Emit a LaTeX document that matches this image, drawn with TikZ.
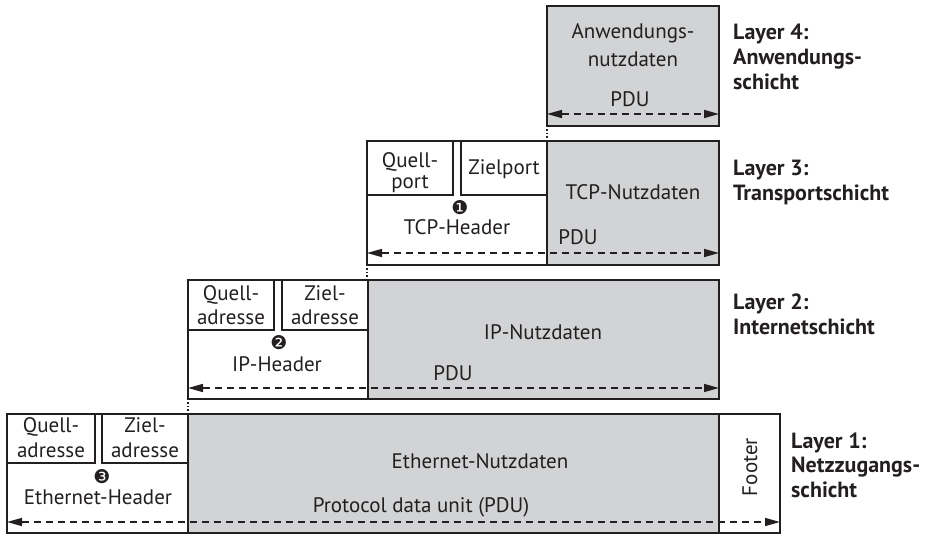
\documentclass[tikz,border=0pt]{standalone}
\usepackage{fontspec}
\setmainfont{PT Sans}
\newfontfamily\dingfont{DejaVu Sans}
\usetikzlibrary{arrows.meta}
\definecolor{ink}{HTML}{231F20}
\definecolor{paygray}{HTML}{D1D3D4}
\begin{document}
\begin{tikzpicture}[x=1pt,y=-1pt,
  frame/.style={draw=ink, line width=1.8pt, rectangle, inner sep=0pt, outer sep=0pt, anchor=north west, fill=white},
  pay/.style={frame, fill=paygray},
  lbl/.style={font=\fontsize{21}{22}\selectfont, text=ink, inner sep=0pt, align=center, anchor=base},
  layer/.style={font=\fontsize{22}{25}\selectfont\bfseries, text=ink, inner sep=0pt, align=left, anchor=base west},
  num/.style={font=\dingfont\fontsize{19}{19}\selectfont, text=ink, inner sep=0pt},
  pdu/.style={draw=ink, line width=1.6pt, dash pattern=on 7pt off 5pt, {Triangle[length=15pt,width=8pt]}-{Triangle[length=15pt,width=8pt]}},
  link/.style={draw=ink, line width=1.4pt, dash pattern=on 1.4pt off 2pt}
]
\useasboundingbox (0,0) rectangle (927,534);

% Layer 4
\node[pay, minimum width=172pt, minimum height=120pt] (l4) at (547,6) {};
% Layer 3
\node[pay, minimum width=172pt, minimum height=124pt] (tcpp) at (547,141) {};
\node[frame, minimum width=180pt, minimum height=124pt] (tcph) at (367,141) {};
\node[frame, minimum width=86pt, minimum height=54pt] (tcpq) at (367,141) {};
\node[frame, minimum width=86pt, minimum height=54pt] (tcpz) at (461,141) {};
% Layer 2
\node[pay, minimum width=351pt, minimum height=119pt] (ipp) at (368,280) {};
\node[frame, minimum width=180pt, minimum height=119pt] (iph) at (188,280) {};
\node[frame, minimum width=86pt, minimum height=50pt] (ipq) at (188,280) {};
\node[frame, minimum width=86pt, minimum height=50pt] (ipz) at (282,280) {};
% Layer 1
\node[pay, minimum width=531pt, minimum height=119pt] (ethp) at (188,414) {};
\node[frame, minimum width=181pt, minimum height=119pt] (ethh) at (7,414) {};
\node[frame, minimum width=88pt, minimum height=49pt] (ethq) at (7,414) {};
\node[frame, minimum width=86pt, minimum height=49pt] (ethz) at (102,414) {};
\node[frame, minimum width=61pt, minimum height=119pt] (foot) at (719,414) {};

% dotted links
\draw[link] (l4.south west) -- (tcpp.north west);
\draw[link] (tcph.south west) -- (ipp.north west -| tcph.south west);
\draw[link] (iph.south west) -- (ethp.north west);

% PDU arrows
\draw[pdu] ([yshift=12pt]l4.south west) -- ([yshift=12pt]l4.south east);
\draw[pdu] ([yshift=12pt]tcph.south west) -- ([yshift=12pt]tcpp.south east);
\draw[pdu] ([yshift=11pt]iph.south west) -- ([yshift=11pt]ipp.south east);
\draw[pdu] ([yshift=11pt]ethh.south west) -- ([yshift=11pt]foot.south east);

% texts layer 4
\node[lbl, font=\fontsize{21}{28}\selectfont] (t4) at (633,67) {Anwendungs-\\nutzdaten};
\node[lbl] (p4) at (630,107) {PDU};
% layer 3
\node[lbl, font=\fontsize{21}{21}\selectfont] (tq) at (410,189) {Quell-\\port};
\node[lbl] (tz) at (504,175) {Zielport};
\node[num] (n1) at (460,208) {❶};
\node[lbl] (th) at (457,235) {TCP-Header};
\node[lbl] (tn) at (633,200) {TCP-Nutzdaten};
\node[lbl] (p3) at (578,245) {PDU};
% layer 2
\node[lbl, font=\fontsize{21}{24}\selectfont] (iq) at (231,325) {Quell-\\adresse};
\node[lbl, font=\fontsize{21}{24}\selectfont] (iz) at (325,325) {Ziel-\\adresse};
\node[num] (n2) at (279,343) {❷};
\node[lbl] (ih) at (277,372) {IP-Header};
\node[lbl] (in) at (543,340) {IP-Nutzdaten};
\node[lbl] (p2) at (453,381) {PDU};
% layer 1
\node[lbl, font=\fontsize{21}{25}\selectfont] (eq) at (51,458) {Quell-\\adresse};
\node[lbl, font=\fontsize{21}{25}\selectfont] (ez) at (145,458) {Ziel-\\adresse};
\node[num] (n3) at (102,477) {❸};
\node[lbl] (eh) at (98,505) {Ethernet-Header};
\node[lbl] (en) at (480,469) {Ethernet-Nutzdaten};
\node[lbl] (p1) at (421,513) {Protocol data unit (PDU)};
\node[lbl, anchor=center, rotate=90] (ft) at (750,467) {Footer};

% layer labels
\node[layer] (L4) at (733,90) {Layer 4:\\Anwendungs-\\schicht};
\node[layer] (L3) at (733,201) {Layer 3:\\Transportschicht};
\node[layer] (L2) at (733,335) {Layer 2:\\Internetschicht};
\node[layer] (L1) at (791,498) {Layer 1:\\Netzzugangs-\\schicht};
\end{tikzpicture}
\end{document}
